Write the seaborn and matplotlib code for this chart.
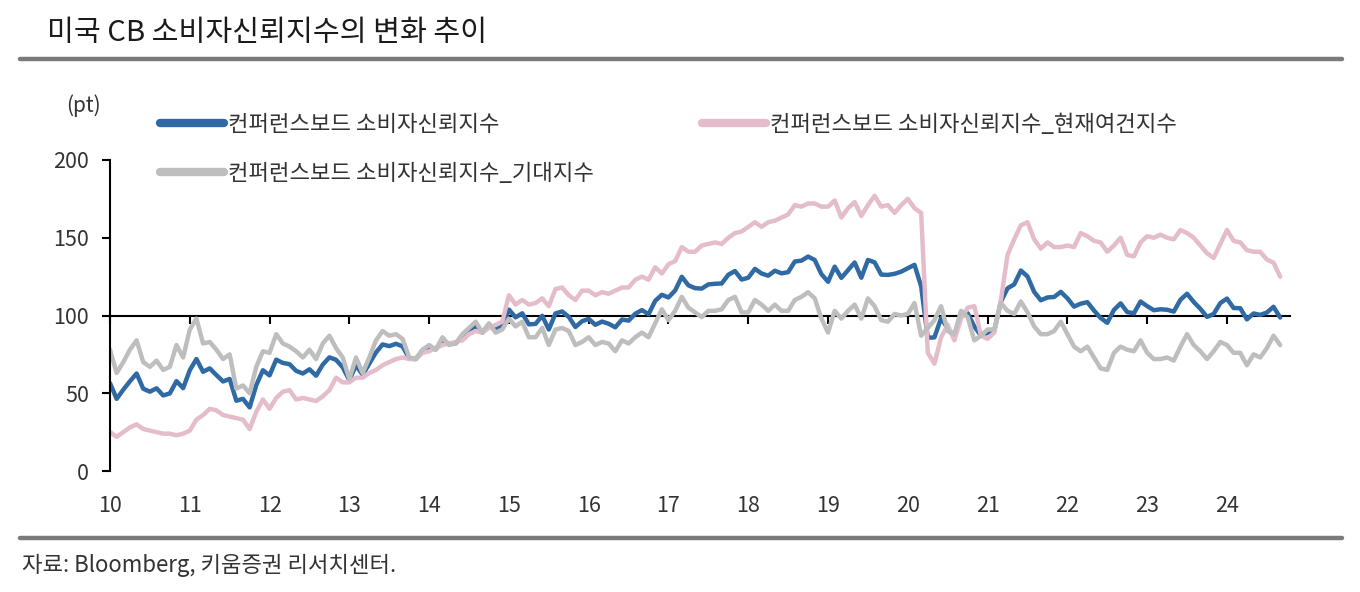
import numpy as np
import pandas as pd
import matplotlib
matplotlib.use("Agg")
import matplotlib.pyplot as plt
from matplotlib.lines import Line2D
import seaborn as sns

# ---- data (monthly, Jan 2010 - Sep 2024) ----
months = pd.date_range("2010-01-01", "2024-09-01", freq="MS")

cci = [
    56.5, 46.4, 52.3, 57.7, 62.7, 52.9, 51.0, 53.2, 48.6, 49.9, 57.8, 53.3,
    64.8, 72.0, 63.8, 66.0, 61.7, 57.6, 59.2, 45.2, 46.4, 40.9, 55.2, 64.8,
    61.5, 71.6, 69.5, 68.7, 64.4, 62.7, 65.4, 61.3, 68.4, 73.1, 71.5, 66.7,
    58.4, 68.0, 61.9, 69.0, 76.2, 81.4, 80.3, 81.8, 80.2, 72.4, 72.0, 77.5,
    79.4, 78.3, 83.9, 81.7, 82.2, 86.4, 90.3, 93.4, 89.0, 94.1, 91.0, 93.1,
    103.8, 98.8, 101.4, 94.3, 94.6, 99.8, 91.0, 101.3, 102.6, 99.1, 92.6, 96.3,
    97.8, 94.0, 96.1, 94.7, 92.4, 97.4, 96.7, 101.1, 103.5, 100.8, 109.4, 113.3,
    111.6, 116.1, 124.9, 119.4, 117.6, 117.3, 120.0, 120.4, 120.6, 126.2, 128.6, 123.1,
    124.3, 130.0, 127.0, 125.6, 128.8, 127.1, 127.9, 134.7, 135.3, 137.9, 135.7, 126.6,
    121.7, 131.4, 124.2, 129.2, 134.1, 124.3, 135.7, 134.2, 126.3, 126.1, 126.8, 128.2,
    130.4, 132.6, 118.8, 85.7, 85.9, 98.3, 91.7, 86.3, 101.3, 101.4, 92.9, 87.1,
    88.9, 90.4, 109.0, 117.5, 120.0, 128.9, 125.1, 115.2, 109.8, 111.6, 111.9, 115.2,
    111.1, 105.7, 107.6, 108.6, 103.2, 98.4, 95.3, 103.6, 107.8, 102.2, 101.4, 109.0,
    106.0, 103.4, 104.0, 103.7, 102.5, 110.1, 114.0, 108.7, 104.3, 99.1, 101.0, 108.0,
    110.9, 104.8, 104.7, 97.5, 101.3, 100.4, 101.9, 105.6, 98.7,
]

present = [
    25, 22, 25, 28, 30, 27, 26, 25, 24, 24, 23, 24,
    26, 33, 36, 40, 39, 36, 35, 34, 33, 27, 38, 46,
    40, 47, 51, 52, 46, 47, 46, 45, 48, 52, 60, 57,
    57, 60, 60, 63, 65, 68, 70, 72, 73, 72, 72, 76,
    77, 79, 81, 82, 83, 84, 88, 90, 89, 92, 94, 96,
    113, 107, 110, 107, 108, 111, 106, 117, 118, 113, 110, 116,
    116, 113, 115, 114, 116, 118, 118, 123, 125, 123, 131, 127,
    133, 135, 144, 141, 141, 145, 146, 147, 146, 150, 153, 154,
    157, 160, 157, 160, 161, 163, 165, 171, 170, 172, 172, 170,
    170, 174, 163, 169, 173, 164, 171, 177, 170, 171, 166, 171,
    175, 169, 166, 76, 69, 86, 94, 84, 98, 105, 106, 87,
    85, 89, 110, 139, 149, 158, 160, 149, 143, 147, 144, 144,
    145, 144, 153, 151, 148, 147, 141, 145, 150, 139, 138, 147,
    151, 150, 152, 150, 149, 155, 153, 150, 145, 140, 137, 146,
    155, 148, 147, 142, 141, 141, 136, 134, 125,
]

expect = [
    78, 63, 70, 78, 84, 70, 67, 71, 65, 67, 81, 73,
    91, 98, 82, 83, 78, 72, 75, 53, 55, 50, 67, 77,
    76, 88, 82, 80, 77, 73, 78, 72, 82, 87, 79, 73,
    59, 73, 63, 73, 84, 90, 87, 88, 85, 73, 72, 78,
    81, 78, 86, 81, 82, 88, 92, 96, 89, 95, 89, 91,
    98, 93, 96, 86, 86, 92, 81, 91, 92, 90, 81, 83,
    86, 81, 83, 82, 77, 84, 82, 86, 89, 86, 95, 104,
    97, 103, 112, 105, 102, 99, 103, 103, 104, 110, 112, 102,
    102, 110, 107, 103, 107, 103, 103, 110, 112, 115, 111, 98,
    89, 103, 98, 103, 107, 98, 111, 106, 97, 96, 101, 100,
    101, 108, 87, 92, 97, 106, 90, 88, 103, 99, 84, 87,
    91, 91, 108, 103, 101, 109, 102, 93, 88, 88, 90, 96,
    88, 80, 77, 80, 73, 66, 65, 76, 80, 78, 77, 84,
    76, 72, 72, 73, 71, 80, 88, 81, 77, 72, 77, 83,
    81, 76, 76, 68, 75, 73, 79, 87, 81,
]

series_names = [
    "컨퍼런스보드 소비자신뢰지수",
    "컨퍼런스보드 소비자신뢰지수_현재여건지수",
    "컨퍼런스보드 소비자신뢰지수_기대지수",
]
colors = ["#2f6aa4", "#e5bccb", "#bebebe"]
x_ticks = list(range(2010, 2025))
x_labels = [str(y % 100) for y in x_ticks]
y_ticks = [0, 50, 100, 150, 200]

# ---- build long table ----
t = months.year + (months.month - 1) / 12.0
frames = []
for name, vals in zip(series_names, [cci, present, expect]):
    frames.append(pd.DataFrame({"t": t, "v": vals, "series": name}))
df = pd.concat(frames, ignore_index=True)

sns.set_theme(style="white")
plt.rcParams["font.family"] = ["Noto Sans CJK KR", "DejaVu Sans"]
plt.rcParams["axes.unicode_minus"] = False

W, H = 1360, 592
fig = plt.figure(figsize=(W / 100, H / 100), dpi=100)
fig.patch.set_facecolor("white")

def fx(px):
    return px / W

def fy(py):
    return 1 - py / H

ax = fig.add_axes([fx(110), fy(471), fx(1290 - 110), (471 - 160) / H])

sns.lineplot(data=df, x="t", y="v", hue="series", hue_order=series_names,
             palette=dict(zip(series_names, colors)), linewidth=3.2,
             legend=False, ax=ax, sort=False)

ax.set_xlim(2010, 2024.79)
ax.set_ylim(0, 200)
ax.set_xlabel("")
ax.set_ylabel("")

for s in ["top", "right", "bottom"]:
    ax.spines[s].set_visible(False)
ax.spines["left"].set_color("black")
ax.spines["left"].set_linewidth(1.5)

ax.set_yticks(y_ticks)
ax.set_yticklabels([str(v) for v in y_ticks])
ax.tick_params(axis="y", direction="out", length=6, width=1.5, color="black",
               pad=9, labelsize=15.5, labelcolor="#333333", left=True)

ax.set_xticks(x_ticks)
ax.set_xticklabels(x_labels)
ax.tick_params(axis="x", length=0, pad=17, labelsize=15.5, labelcolor="#333333")

# axis line at 100 with ticks
sec = ax.secondary_xaxis(0.5)
sec.set_alignment("bottom")
sec.set_xticks(x_ticks)
sec.tick_params(axis="x", direction="out", length=6, width=1.5, color="black",
                labelbottom=False, labeltop=False)
sec.spines["bottom"].set_color("black")
sec.spines["bottom"].set_linewidth(1.5)

# ---- legend ----
h = [Line2D([], [], color=c, lw=6, solid_capstyle="round") for c in colors]
fig.legend([h[0], h[2]], [series_names[0], series_names[2]],
           loc="upper left", bbox_to_anchor=(fx(160), fy(113)),
           frameon=False, fontsize=16, handlelength=2.9, handletextpad=0.15,
           labelspacing=1.15, labelcolor="#333333", borderaxespad=0, borderpad=0)
fig.legend([h[1]], [series_names[1]],
           loc="upper left", bbox_to_anchor=(fx(702), fy(113)),
           frameon=False, fontsize=16, handlelength=2.9, handletextpad=0.15,
           labelcolor="#333333", borderaxespad=0, borderpad=0)

fig.text(fx(101), fy(106), "(pt)", ha="right", va="center", fontsize=15,
         color="#333333")

# ---- title, rules, source ----
fig.text(fx(47), fy(33), "미국 CB 소비자신뢰지수의 변화 추이", ha="left",
         va="center", fontsize=21, fontweight="medium", color="#1a1a1a")
fig.add_artist(Line2D([fx(20), fx(1342)], [fy(59), fy(59)], color="#7a7a7a",
                      lw=3.2, transform=fig.transFigure))
fig.add_artist(Line2D([fx(20), fx(1342)], [fy(538), fy(538)], color="#7a7a7a",
                      lw=3.2, transform=fig.transFigure))
fig.text(fx(22), fy(565), "자료: Bloomberg, 키움증권 리서치센터.", ha="left",
         va="center", fontsize=16, color="#333333")

fig.savefig("out.png", dpi=100, facecolor="white")
